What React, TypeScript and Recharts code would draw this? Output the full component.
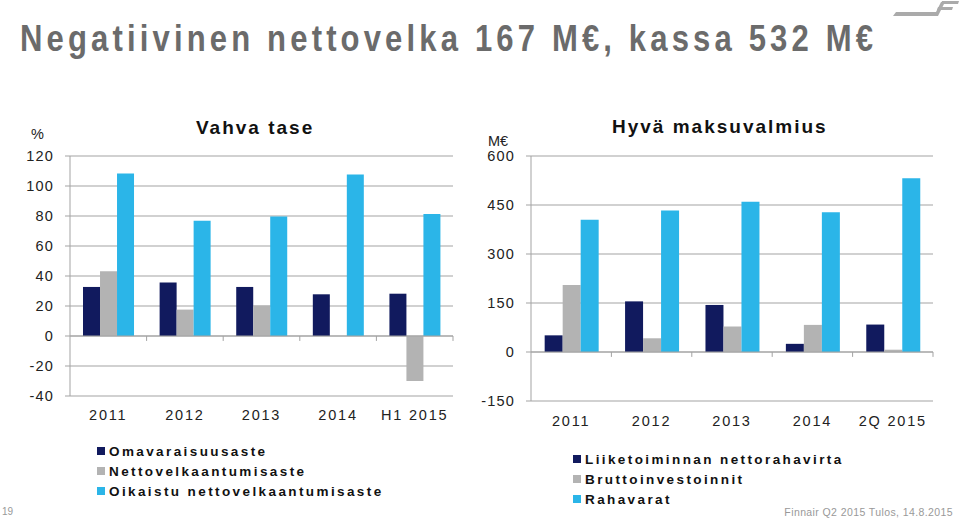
import { BarChart, Bar, XAxis, YAxis, CartesianGrid, ReferenceLine } from "recharts";

const NAVY = "#111a5e";
const GRAY = "#b3b3b3";
const CYAN = "#2bb5e8";
const GRID = "#a3a3a3";
const FONT = "'Liberation Sans', Arial, sans-serif";

// Vahva tase (%)
const balanceYears = ["2011", "2012", "2013", "2014", "H1 2015"];
const equityRatio = [32.7, 35.6, 32.7, 27.8, 28.2];
const gearing = [43.1, 17.6, 20.4, 0, -30];
const adjustedGearing = [108.4, 76.9, 79.6, 107.6, 81.3];
const balanceTicks = [-40, -20, 0, 20, 40, 60, 80, 100, 120];

// Hyvä maksuvalmius (M€)
const cashYears = ["2011", "2012", "2013", "2014", "2Q 2015"];
const operatingCashFlow = [51, 155, 144, 25, 84];
const grossCapex = [205, 42, 78, 83, 7];
const liquidFunds = [405, 433, 460, 428, 532];
const cashTicks = [-150, 0, 150, 300, 450, 600];

const balanceLegend = ["Omavaraisuusaste", "Nettovelkaantumisaste", "Oikaistu nettovelkaantumisaste"];
const cashLegend = ["Liiketoiminnan nettorahavirta", "Bruttoinvestoinnit", "Rahavarat"];
const seriesColors = [NAVY, GRAY, CYAN];

const balanceData = balanceYears.map((year, i) => ({
  year,
  a: equityRatio[i],
  b: gearing[i],
  c: adjustedGearing[i],
}));

const cashData = cashYears.map((year, i) => ({
  year,
  a: operatingCashFlow[i],
  b: grossCapex[i],
  c: liquidFunds[i],
}));

const yTickStyle = { fontSize: 14.5, fill: "#222", fontFamily: FONT, letterSpacing: 1.2 };
const xTickStyle = { fontSize: 14.5, fill: "#222", fontFamily: FONT, letterSpacing: 1.8 };

// title squeezed a bit horizontally, the slide uses a narrow face
const TITLE_SQUEEZE = 0.84;

function LegendBlock({ items, left, top }: { items: string[]; left: number; top: number }) {
  return (
    <div style={{ position: "absolute", left, top, fontFamily: FONT }}>
      {items.map((name, i) => (
        <div key={name} style={{ display: "flex", alignItems: "center", height: 20 }}>
          <span style={{ width: 8, height: 8, background: seriesColors[i], marginRight: 4 }} />
          <span style={{ fontSize: 13.5, fontWeight: "bold", letterSpacing: 2.4, color: "#111" }}>{name}</span>
        </div>
      ))}
    </div>
  );
}

function Logo() {
  return (
    <svg width={70} height={20} style={{ position: "absolute", left: 890, top: 0 }}>
      <polygon points="3,16 45,16 47,12 6,12" fill="#aaa" />
      <polygon points="44,16 48,16 55,2 51,2" fill="#aaa" />
      <polygon points="51,4 68,4 69,1 52,1" fill="#aaa" />
      <polygon points="47,10 62,10 63,7 48,7" fill="#aaa" />
    </svg>
  );
}

export default function App() {
  return (
    <div style={{ position: "absolute", left: 0, top: 0, width: 960, height: 521, background: "#fff", overflow: "hidden", fontFamily: FONT }}>
      <svg width={960} height={64} style={{ position: "absolute", left: 0, top: 0 }}>
        <text
          transform={`translate(20,51) scale(${TITLE_SQUEEZE},1)`}
          x={0}
          y={0}
          textLength={853 / TITLE_SQUEEZE}
          lengthAdjust="spacing"
          fontSize={37}
          fontWeight="bold"
          fontFamily={FONT}
          fill="#6b6b6b"
        >
          Negatiivinen nettovelka 167 M€, kassa 532 M€
        </text>
      </svg>
      <Logo />

      <div style={{ position: "absolute", left: 196, top: 117, fontSize: 19, fontWeight: "bold", letterSpacing: 2, color: "#111", whiteSpace: "nowrap" }}>
        Vahva tase
      </div>
      <div style={{ position: "absolute", left: 31, top: 126, fontSize: 14.5, color: "#222" }}>%</div>

      <div style={{ position: "absolute", left: 612, top: 116, fontSize: 19, fontWeight: "bold", letterSpacing: 2, color: "#111", whiteSpace: "nowrap" }}>
        Hyvä maksuvalmius
      </div>
      <div style={{ position: "absolute", left: 488, top: 133, fontSize: 14.5, color: "#222" }}>M€</div>

      <div style={{ position: "absolute", left: 0, top: 0 }}>
        <BarChart
          width={470}
          height={521}
          data={balanceData}
          margin={{ top: 156, right: 17, left: 0, bottom: 95 }}
          barCategoryGap="17%"
          barGap={0}
        >
          <CartesianGrid vertical={false} stroke={GRID} />
          <XAxis dataKey="year" axisLine={false} tickLine={false} tickSize={6} tickMargin={8} height={30} tick={xTickStyle} interval={0} />
          <YAxis
            domain={[-40, 120]}
            ticks={balanceTicks}
            width={70}
            axisLine={{ stroke: GRID }}
            tickLine={{ stroke: GRID }}
            tickSize={5}
            tickMargin={11}
            tick={yTickStyle}
            interval={0}
          />
          <ReferenceLine y={0} stroke={GRID} />
          {balanceYears.slice(1).map((cat) => (
            <ReferenceLine
              key={cat}
              position="start"
              segment={[{ x: cat, y: 0 }, { x: cat, y: -3.3 }]}
              stroke={GRID}
            />
          ))}
          <ReferenceLine
            position="end"
            segment={[{ x: balanceYears[4], y: 0 }, { x: balanceYears[4], y: -3.3 }]}
            stroke={GRID}
          />
          <Bar dataKey="a" fill={NAVY} isAnimationActive={false} />
          <Bar dataKey="b" fill={GRAY} isAnimationActive={false} />
          <Bar dataKey="c" fill={CYAN} isAnimationActive={false} />
        </BarChart>
      </div>

      <div style={{ position: "absolute", left: 470, top: 0 }}>
        <BarChart
          width={490}
          height={521}
          data={cashData}
          margin={{ top: 156, right: 27, left: 0, bottom: 90 }}
          barCategoryGap="17%"
          barGap={0}
        >
          <CartesianGrid vertical={false} stroke={GRID} />
          <XAxis dataKey="year" axisLine={false} tickLine={false} tickSize={6} tickMargin={9} height={30} tick={xTickStyle} interval={0} />
          <YAxis
            domain={[-150, 600]}
            ticks={cashTicks}
            width={61}
            axisLine={{ stroke: GRID }}
            tickLine={{ stroke: GRID }}
            tickSize={5}
            tickMargin={11}
            tick={yTickStyle}
            interval={0}
          />
          <ReferenceLine y={0} stroke={GRID} />
          {cashYears.slice(1).map((cat) => (
            <ReferenceLine
              key={cat}
              position="start"
              segment={[{ x: cat, y: 0 }, { x: cat, y: -15 }]}
              stroke={GRID}
            />
          ))}
          <ReferenceLine
            position="end"
            segment={[{ x: cashYears[4], y: 0 }, { x: cashYears[4], y: -15 }]}
            stroke={GRID}
          />
          <Bar dataKey="a" fill={NAVY} isAnimationActive={false} />
          <Bar dataKey="b" fill={GRAY} isAnimationActive={false} />
          <Bar dataKey="c" fill={CYAN} isAnimationActive={false} />
        </BarChart>
      </div>

      <LegendBlock items={balanceLegend} left={97} top={441} />
      <LegendBlock items={cashLegend} left={573} top={449} />

      <div style={{ position: "absolute", left: 2, top: 506, fontSize: 10, color: "#999" }}>19</div>
      <div style={{ position: "absolute", right: 7, top: 506, fontSize: 10.5, color: "#999", letterSpacing: 0.4 }}>
        Finnair Q2 2015 Tulos, 14.8.2015
      </div>
    </div>
  );
}
